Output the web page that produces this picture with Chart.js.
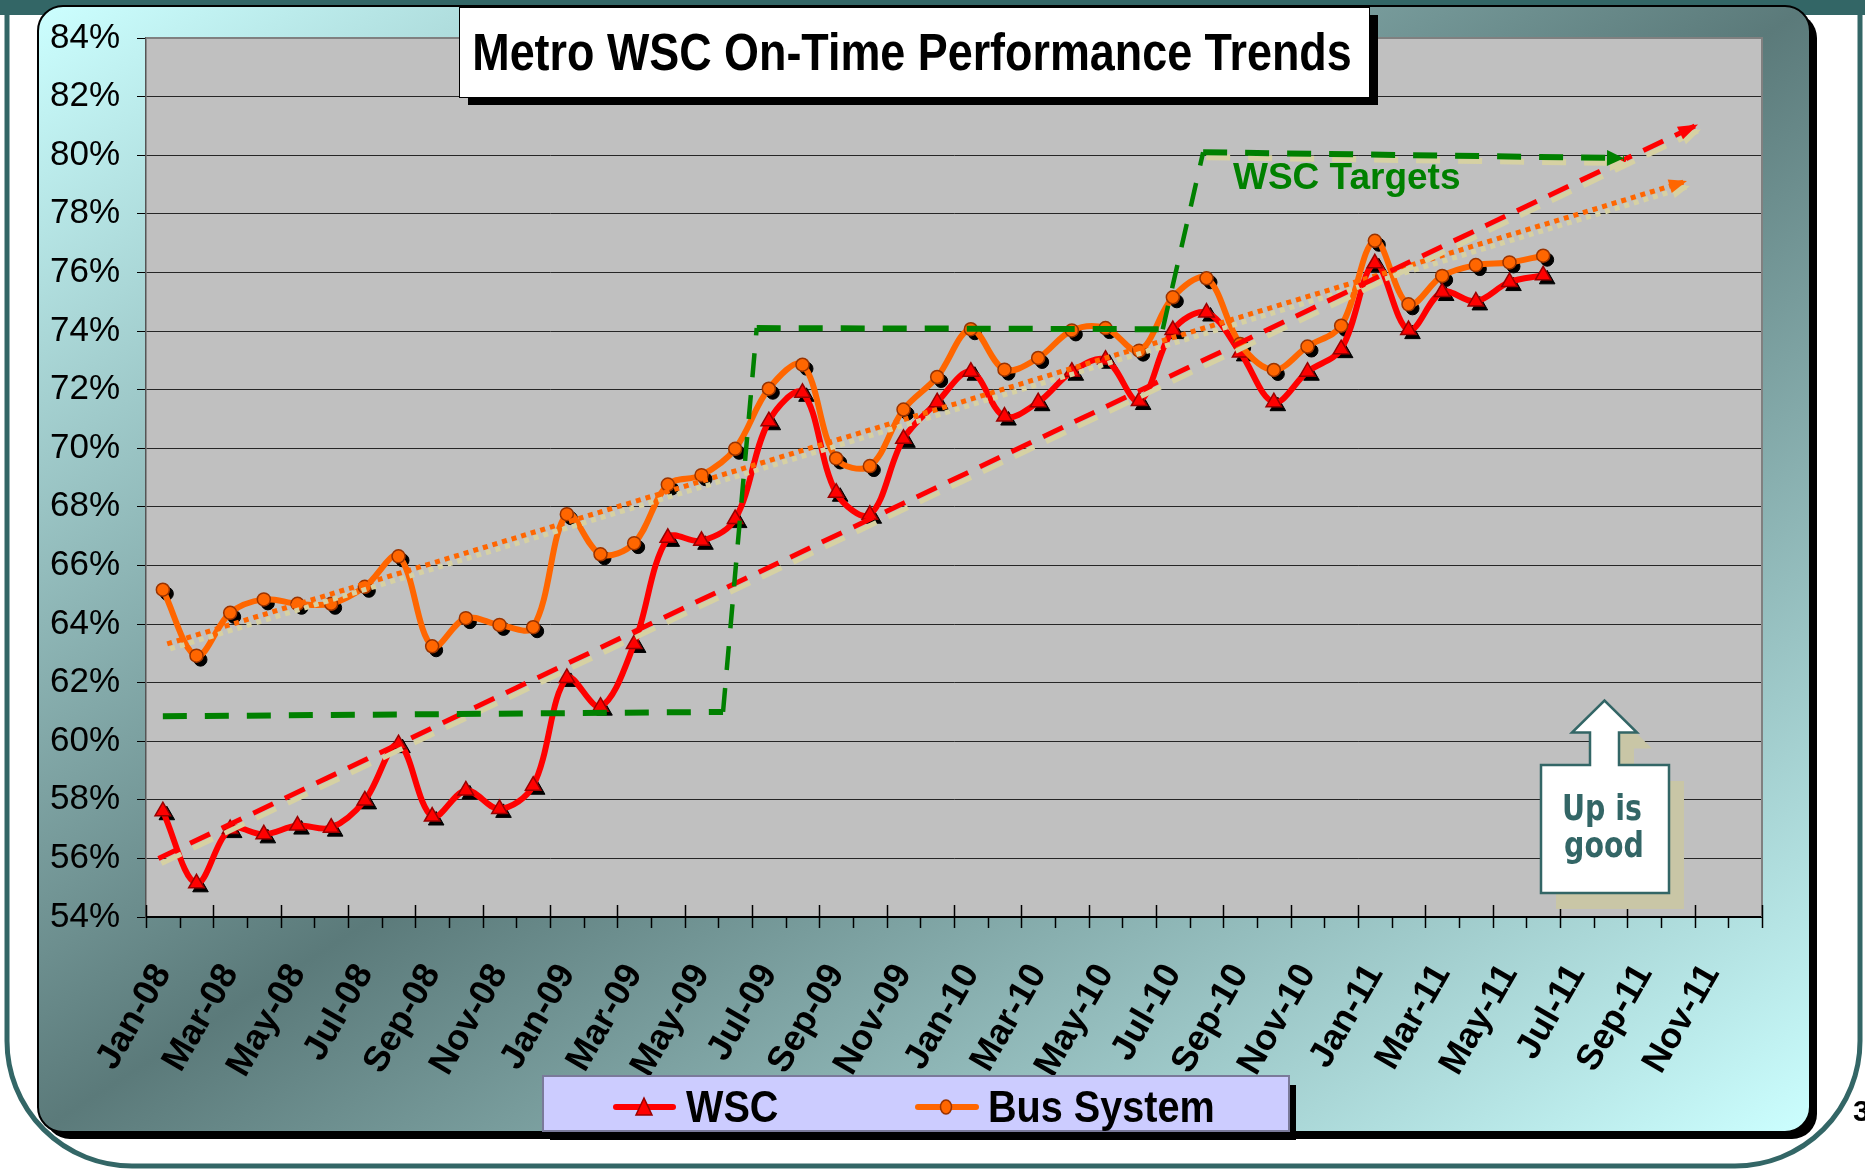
<!DOCTYPE html>
<html>
<head>
<meta charset="utf-8">
<title>Metro WSC On-Time Performance Trends</title>
<script src="https://cdn.jsdelivr.net/npm/chart.js@4.4.1/dist/chart.umd.min.js"></script>
<style>
  html, body { margin: 0; padding: 0; background: #fff; }
  #wrap { width: 1865px; height: 1171px; position: relative; }
</style>
</head>
<body>
<div id="wrap"><canvas id="grafica"></canvas></div>
<script>
// meses del eje (Jan-08 .. Dec-11)
const meses = [
  "Jan-08", "Feb-08", "Mar-08", "Apr-08", "May-08", "Jun-08", "Jul-08", "Aug-08", "Sep-08", "Oct-08", "Nov-08", "Dec-08",
  "Jan-09", "Feb-09", "Mar-09", "Apr-09", "May-09", "Jun-09", "Jul-09", "Aug-09", "Sep-09", "Oct-09", "Nov-09", "Dec-09",
  "Jan-10", "Feb-10", "Mar-10", "Apr-10", "May-10", "Jun-10", "Jul-10", "Aug-10", "Sep-10", "Oct-10", "Nov-10", "Dec-10",
  "Jan-11", "Feb-11", "Mar-11", "Apr-11", "May-11", "Jun-11", "Jul-11", "Aug-11", "Sep-11", "Oct-11", "Nov-11", "Dec-11"
];
const tickLabels = [
  "Jan-08", "Mar-08", "May-08", "Jul-08", "Sep-08", "Nov-08",
  "Jan-09", "Mar-09", "May-09", "Jul-09", "Sep-09", "Nov-09",
  "Jan-10", "Mar-10", "May-10", "Jul-10", "Sep-10", "Nov-10",
  "Jan-11", "Mar-11", "May-11", "Jul-11", "Sep-11", "Nov-11"
];

// % on time, Jan-08 .. Jun-11
const wsc = [
  57.61, 55.15, 57.0, 56.82, 57.12, 57.05, 57.98, 59.9, 57.43, 58.32, 57.69, 58.48,
  62.16, 61.18, 63.32, 66.94, 66.84, 67.58, 70.92, 71.89, 68.48, 67.73, 70.32, 71.57,
  72.61, 71.08, 71.57, 72.61, 73.02, 71.61, 74.03, 74.63, 73.27, 71.57, 72.61, 73.38,
  76.31, 74.03, 75.33, 75.01, 75.67, 75.9
];
const busSystem = [
  65.17, 62.92, 64.38, 64.84, 64.69, 64.69, 65.27, 66.31, 63.24, 64.2, 63.97, 63.89,
  67.75, 66.38, 66.76, 68.76, 69.08, 69.98, 72.03, 72.85, 69.65, 69.39, 71.32, 72.43,
  74.06, 72.68, 73.08, 74.02, 74.1, 73.33, 75.15, 75.8, 73.56, 72.67, 73.47, 74.18,
  77.08, 74.91, 75.88, 76.25, 76.34, 76.57
];

// trend arrows and targets (x = month index, y = %)
const wscTrendX = [-0.13, 45.6];
const wscTrendY = [56.0, 81.05];
const busTrendX = [0.13, 45.27];
const busTrendY = [63.32, 79.12];
const targetX = [0, 16.64, 17.64, 29.7, 30.9, 43.4];
const targetY = [60.85, 61.0, 74.1, 74.06, 80.1, 79.9];

const fuente = "'Liberation Sans', Arial, sans-serif";
const beige = "#d6d1a3";
const teal = "#336666";

const pts = (xs, ys) => xs.map((x, i) => ({ x: x, y: ys[i] }));
const serie = (vals) => vals.map((v, i) => ({ x: i, y: v }));

function textoAngosto(ctx, txt, x, y, escala, align) {
  ctx.save();
  ctx.translate(x, y);
  ctx.scale(escala, 1);
  ctx.textAlign = align;
  ctx.fillText(txt, 0, 0);
  ctx.restore();
}

// fondo de la diapositiva y del grafico
const fondo = {
  id: "fondo",
  beforeDraw(chart) {
    const ctx = chart.ctx;
    const a = chart.chartArea;
    ctx.save();
    ctx.fillStyle = "#fff";
    ctx.fillRect(0, 0, chart.width, chart.height);
    ctx.fillStyle = teal;
    ctx.fillRect(0, 0, chart.width, 15);

    ctx.strokeStyle = teal;
    ctx.lineWidth = 5;
    ctx.beginPath();
    ctx.moveTo(7, 10);
    ctx.lineTo(7, 1166 - 125);
    ctx.arcTo(7, 1166, 7 + 125, 1166, 125);
    ctx.lineTo(1860 - 125, 1166);
    ctx.arcTo(1860, 1166, 1860, 1166 - 125, 125);
    ctx.lineTo(1860, 10);
    ctx.stroke();

    ctx.fillStyle = "#000";
    ctx.font = "bold 30px " + fuente;
    ctx.fillText("3", 1853, 1121);

    const bx = 38, by = 6, bw = 1772, bh = 1126;
    ctx.fillStyle = "#000";
    ctx.beginPath();
    ctx.roundRect(bx + 7, by + 7, bw, bh, 25);
    ctx.fill();
    const cx = bx + bw / 2, cy = by + bh / 2;
    const k = bw * bh / (bw * bw + bh * bh);
    const g = ctx.createLinearGradient(cx - bh * k, cy - bw * k, cx + bh * k, cy + bw * k);
    g.addColorStop(0, "#ccffff");
    g.addColorStop(0.5, "#5b7a7a");
    g.addColorStop(1, "#ccffff");
    ctx.fillStyle = g;
    ctx.beginPath();
    ctx.roundRect(bx, by, bw, bh, 25);
    ctx.fill();
    ctx.lineWidth = 2;
    ctx.strokeStyle = "#000";
    ctx.stroke();

    ctx.fillStyle = "#c0c0c0";
    ctx.fillRect(a.left, a.top, a.right - a.left, a.bottom - a.top);
    ctx.restore();
  }
};

// sombras, corrimiento de marcadores y puntas de flecha
const sombras = {
  id: "sombras",
  beforeDatasetDraw(chart, args) {
    const ds = chart.data.datasets[args.index];
    const ctx = chart.ctx;
    ctx.save();
    if (ds.corrida) ctx.translate(ds.corrida[0], ds.corrida[1]);
    if (ds.sombra) {
      ctx.shadowColor = ds.sombra;
      ctx.shadowOffsetX = 3;
      ctx.shadowOffsetY = 5;
      ctx.shadowBlur = 0;
    }
  },
  afterDatasetDraw(chart, args) {
    const ds = chart.data.datasets[args.index];
    const ctx = chart.ctx;
    if (ds.flecha) {
      const els = args.meta.data;
      const p1 = els[els.length - 1], p0 = els[els.length - 2];
      const ang = Math.atan2(p1.y - p0.y, p1.x - p0.x);
      const len = ds.flecha[0], half = ds.flecha[1];
      const bx = p1.x - len * Math.cos(ang), by = p1.y - len * Math.sin(ang);
      ctx.fillStyle = ds.borderColor;
      ctx.beginPath();
      ctx.moveTo(p1.x, p1.y);
      ctx.lineTo(bx + half * Math.sin(ang), by - half * Math.cos(ang));
      ctx.lineTo(bx - half * Math.sin(ang), by + half * Math.cos(ang));
      ctx.closePath();
      ctx.fill();
    }
    ctx.restore();
  }
};

// titulo, rotulos, leyenda, marcas del eje x
const extras = {
  id: "extras",
  afterDraw(chart) {
    const ctx = chart.ctx;
    const a = chart.chartArea;
    const xs = chart.scales.x;
    ctx.save();

    // borde gris del area de trazado
    ctx.strokeStyle = "#808080";
    ctx.lineWidth = 2;
    ctx.beginPath();
    ctx.moveTo(a.left, a.top);
    ctx.lineTo(a.right, a.top);
    ctx.lineTo(a.right, a.bottom);
    ctx.stroke();

    // marcas del eje x (largas / cortas)
    ctx.strokeStyle = "#000";
    ctx.lineWidth = 1.5;
    for (let k = 0; k <= meses.length; k++) {
      const px = Math.round(xs.getPixelForValue(k - 0.5)) + 0.5;
      ctx.beginPath();
      ctx.moveTo(px, k % 2 === 0 ? a.bottom - 12 : a.bottom);
      ctx.lineTo(px, a.bottom + 11);
      ctx.stroke();
    }

    // caja del titulo
    ctx.fillStyle = "#000";
    ctx.fillRect(468, 15, 910, 90);
    ctx.fillStyle = "#fff";
    ctx.fillRect(459, 7, 910, 90);
    ctx.strokeStyle = "#000";
    ctx.lineWidth = 1;
    ctx.strokeRect(459.5, 7.5, 910, 90);
    ctx.fillStyle = "#000";
    ctx.font = "bold 51px " + fuente;
    textoAngosto(ctx, "Metro WSC On-Time Performance Trends", 912, 70, 0.88, "center");

    ctx.fillStyle = "#008000";
    ctx.font = "bold 37px " + fuente;
    ctx.textAlign = "left";
    ctx.fillText("WSC Targets", 1233, 189);

    // flecha "Up is good"
    const flecha = (dx, dy) => {
      ctx.beginPath();
      ctx.moveTo(1541 + dx, 765 + dy);
      ctx.lineTo(1590 + dx, 765 + dy);
      ctx.lineTo(1590 + dx, 732.5 + dy);
      ctx.lineTo(1572 + dx, 732.5 + dy);
      ctx.lineTo(1604.5 + dx, 700.5 + dy);
      ctx.lineTo(1637 + dx, 732.5 + dy);
      ctx.lineTo(1619 + dx, 732.5 + dy);
      ctx.lineTo(1619 + dx, 765 + dy);
      ctx.lineTo(1669 + dx, 765 + dy);
      ctx.lineTo(1669 + dx, 893 + dy);
      ctx.lineTo(1541 + dx, 893 + dy);
      ctx.closePath();
    };
    ctx.fillStyle = "#c9c6a6";
    flecha(15, 16);
    ctx.fill();
    ctx.fillStyle = "#fff";
    flecha(0, 0);
    ctx.fill();
    ctx.strokeStyle = teal;
    ctx.lineWidth = 2.5;
    ctx.stroke();
    ctx.fillStyle = teal;
    ctx.font = "bold 36px 'DejaVu Sans', Verdana, sans-serif";
    textoAngosto(ctx, "Up is", 1602, 820, 0.79, "center");
    textoAngosto(ctx, "good", 1604, 857, 0.79, "center");

    // leyenda
    ctx.fillStyle = "#000";
    ctx.fillRect(550, 1085, 746, 55);
    ctx.fillStyle = "#ccccff";
    ctx.fillRect(543, 1076, 746, 55);
    ctx.strokeStyle = "#7a7a9a";
    ctx.lineWidth = 2;
    ctx.strokeRect(543, 1076, 746, 55);

    ctx.lineCap = "round";
    ctx.lineWidth = 6;
    ctx.strokeStyle = "#ff0000";
    ctx.beginPath(); ctx.moveTo(616, 1107); ctx.lineTo(673, 1107); ctx.stroke();
    ctx.strokeStyle = "#ff6600";
    ctx.beginPath(); ctx.moveTo(918, 1107); ctx.lineTo(976, 1107); ctx.stroke();
    ctx.lineCap = "butt";
    ctx.lineWidth = 1.5;
    ctx.fillStyle = "#ff0000";
    ctx.strokeStyle = "#990000";
    ctx.beginPath();
    ctx.moveTo(644, 1098); ctx.lineTo(652, 1115); ctx.lineTo(636, 1115); ctx.closePath();
    ctx.fill(); ctx.stroke();
    ctx.fillStyle = "#ff6600";
    ctx.strokeStyle = "#993300";
    ctx.beginPath();
    ctx.ellipse(946, 1107, 5.5, 7, 0, 0, Math.PI * 2);
    ctx.fill(); ctx.stroke();

    ctx.fillStyle = "#000";
    ctx.font = "bold 44px " + fuente;
    textoAngosto(ctx, "WSC", 686, 1122, 0.9, "left");
    textoAngosto(ctx, "Bus System", 988, 1122, 0.9, "left");

    ctx.restore();
  }
};

new Chart(document.getElementById("grafica"), {
  type: "line",
  data: {
    datasets: [
      {
        label: "Targets",
        data: pts(targetX.slice(0, 5), targetY.slice(0, 5)),
        borderColor: "#008000",
        borderWidth: 6,
        borderDash: [24, 18],
        pointRadius: 0,
        tension: 0,
        segment: { borderWidth: (c) => (c.p0DataIndex % 2 === 1 ? 4.5 : 6) },
        order: 0,
      },
      {
        label: "Targets 80",
        data: pts(targetX.slice(4), targetY.slice(4)),
        borderColor: "#008000",
        borderWidth: 6,
        borderDash: [24, 18],
        pointRadius: 0,
        tension: 0,
        sombra: beige,
        flecha: [17, 8],
        order: 0,
      },
      {
        label: "WSC trend",
        data: pts(wscTrendX, wscTrendY),
        borderColor: "#ff0000",
        borderWidth: 5,
        borderDash: [22, 13],
        pointRadius: 0,
        tension: 0,
        sombra: beige,
        flecha: [20, 7],
        order: 1,
      },
      {
        label: "Bus trend",
        data: pts(busTrendX, busTrendY),
        borderColor: "#ff6600",
        borderWidth: 5,
        borderDash: [5, 5],
        pointRadius: 0,
        tension: 0,
        sombra: beige,
        flecha: [18, 7],
        order: 1,
      },
      {
        label: "Bus System",
        data: serie(busSystem),
        borderColor: "#ff6600",
        borderWidth: 6,
        pointStyle: "circle",
        pointRadius: 6.5,
        pointBackgroundColor: "#ff6600",
        pointBorderColor: "#993300",
        pointBorderWidth: 1.5,
        tension: 0.35,
        order: 3,
      },
      {
        label: "WSC",
        data: serie(wsc),
        borderColor: "#ff0000",
        borderWidth: 6,
        pointStyle: "triangle",
        pointRadius: 9,
        pointBackgroundColor: "#ff0000",
        pointBorderColor: "#990000",
        pointBorderWidth: 1.5,
        tension: 0.35,
        order: 4,
      },
      {
        label: "Bus shadow",
        data: serie(busSystem),
        showLine: false,
        pointStyle: "circle",
        pointRadius: 6.5,
        pointBackgroundColor: "#000",
        pointBorderColor: "#000",
        corrida: [4, 4],
        order: 5,
      },
      {
        label: "WSC shadow",
        data: serie(wsc),
        showLine: false,
        pointStyle: "triangle",
        pointRadius: 9,
        pointBackgroundColor: "#000",
        pointBorderColor: "#000",
        corrida: [4, 4],
        order: 6,
      },
    ],
  },
  options: {
    responsive: true,
    maintainAspectRatio: false,
    animation: false,
    devicePixelRatio: 1,
    layout: { padding: { left: 0, top: 37, right: 103, bottom: 0 } },
    plugins: {
      legend: { display: false },
      tooltip: { enabled: false },
    },
    scales: {
      x: {
        type: "linear",
        min: -0.5,
        max: meses.length - 0.5,
        afterBuildTicks: (s) => {
          s.ticks = tickLabels.map((t, k) => ({ value: 2 * k }));
        },
        afterFit: (s) => {
          s.height = 254;
        },
        grid: { display: false, drawTicks: false },
        border: { display: true, color: "#000", width: 2 },
        ticks: {
          autoSkip: false,
          maxRotation: 60,
          minRotation: 60,
          padding: 40,
          color: "#000",
          font: { family: fuente, size: 36, weight: "bold" },
          callback: (v, i) => tickLabels[i],
        },
      },
      y: {
        min: 54,
        max: 84,
        afterFit: (s) => {
          s.width = 146;
        },
        grid: { color: "#262626", lineWidth: 1, tickLength: 9, tickColor: "#000" },
        border: { display: true, color: "#555", width: 1.5 },
        ticks: {
          stepSize: 2,
          padding: 17,
          color: "#000",
          font: { family: fuente, size: 35 },
          callback: (v) => v + "%",
        },
      },
    },
  },
  plugins: [fondo, sombras, extras],
});
</script>
</body>
</html>
